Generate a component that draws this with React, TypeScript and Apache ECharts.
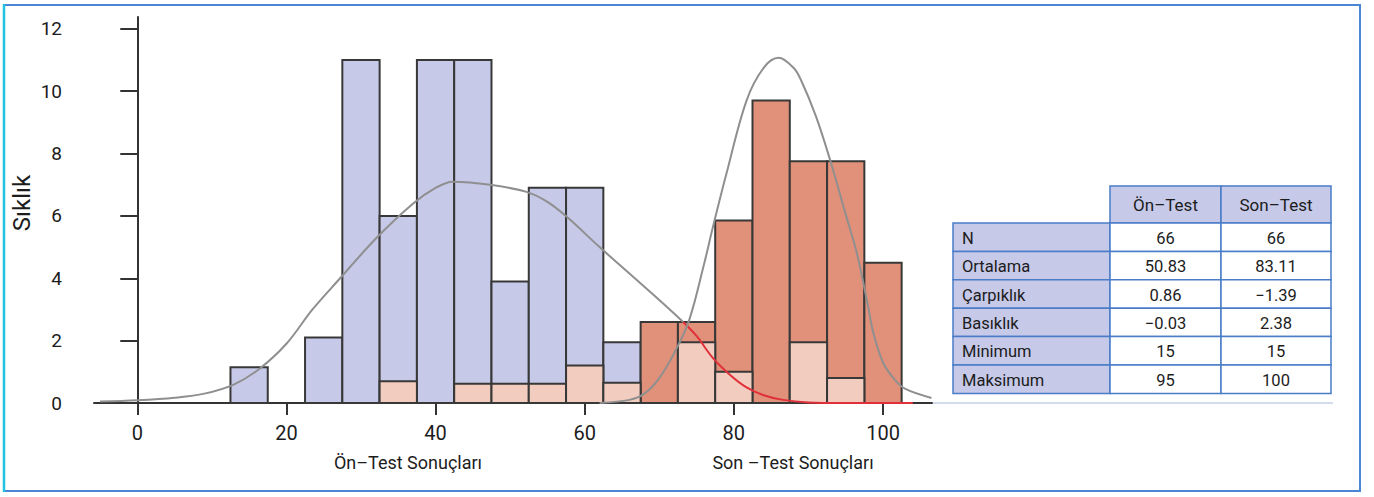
import React, { useEffect, useRef } from "react";
import * as echarts from "echarts";

// Histogram bins (centres, width 5) and their heights
const binWidth = 5;
const preBins = [15, 25, 30, 35, 40, 45, 50, 55, 60, 65];
const preCounts = [1.15, 2.1, 11, 6, 11, 11, 3.9, 6.9, 6.9, 1.95];
const postBins = [70, 75, 80, 85, 90, 95, 100];
const postCounts = [2.6, 2.6, 5.85, 9.7, 7.75, 7.75, 4.5];
const overlapBins = [35, 45, 50, 55, 60, 65, 75, 80, 90, 95];
const overlapCounts = [0.7, 0.62, 0.62, 0.62, 1.2, 0.65, 1.95, 1.0, 1.95, 0.8];

// Density curves
const preCurveX = [-5, 0, 5, 9, 13, 16.4, 20, 23.5, 27.2, 32.1, 37, 40, 42.3, 47.3, 52.2, 55, 57.6, 62, 66, 70, 73.2];
const preCurveY = [0.05, 0.09, 0.17, 0.3, 0.6, 1.1, 1.9, 3.0, 4.0, 5.3, 6.4, 6.9, 7.1, 7.0, 6.77, 6.45, 5.97, 5.0, 4.15, 3.3, 2.6];
const preTailX = [73.2, 75, 77.2, 79.5, 81.7, 84, 86.6, 90, 95, 104];
const preTailY = [2.6, 2.15, 1.44, 0.9, 0.5, 0.25, 0.1, 0.02, 0, 0];
const postCurveX = [62, 66, 68, 70, 72, 74, 76, 77.2, 79, 81.7, 84, 86, 88, 89, 91, 92.9, 95, 96.5, 98, 98.7, 100, 101.6, 103, 106.5];
const postCurveY = [0, 0.1, 0.3, 0.8, 1.6, 2.65, 4.45, 5.65, 7.35, 9.7, 10.75, 11.07, 10.75, 10.36, 9.2, 7.8, 6.05, 4.8, 3.1, 2.25, 1.3, 0.74, 0.45, 0.16];

// Axis ticks
const xTicks = [0, 20, 40, 60, 80, 100];
const yTicks = [0, 2, 4, 6, 8, 10, 12];

// Summary table
const statHeaders = ["Ön–Test", "Son–Test"];
const statLabels = ["N", "Ortalama", "Çarpıklık", "Basıklık", "Minimum", "Maksimum"];
const preStats = ["66", "50.83", "0.86", "−0.03", "15", "95"];
const postStats = ["66", "83.11", "−1.39", "2.38", "15", "100"];

const BLUE = "#c6c9e8";
const RED = "#e1907a";
const PINK = "#f2cdbf";
const EDGE = "#383838";
const TEXT = "#1c1c1c";
const TABLE_LINE = "#4a7cc8";
const FONT = "Roboto, 'Liberation Sans', sans-serif";
const NARROW = "'Liberation Sans Narrow', Roboto, sans-serif";

function barSeries(name: string, bins: number[], counts: number[], fill: string) {
  return {
    type: "custom",
    name,
    z: 2,
    data: bins.map((b, i) => [b, counts[i]]),
    encode: { x: 0, y: 1 },
    renderItem: (_params: any, api: any) => {
      const c = api.value(0);
      const h = api.value(1);
      const p0 = api.coord([c - binWidth / 2, h]);
      const p1 = api.coord([c + binWidth / 2, 0]);
      return {
        type: "rect",
        shape: { x: p0[0], y: p0[1], width: p1[0] - p0[0], height: p1[1] - p0[1] },
        style: { fill, stroke: EDGE, lineWidth: 2 },
      };
    },
  };
}

function lineSeries(xs: number[], ys: number[], color: string) {
  return {
    type: "line",
    z: 3,
    smooth: 0.35,
    showSymbol: false,
    silent: true,
    data: xs.map((x, i) => [x, ys[i]]),
    lineStyle: { color, width: 2 },
  };
}

function buildTable() {
  const left = 953;
  const c1 = 1110;
  const c2 = 1221;
  const right = 1331;
  const headTop = 186;
  const bodyTop = 223;
  const rowH = 28.4;
  const els: any[] = [];
  const cellStyle = (fill: string) => ({ fill, stroke: TABLE_LINE, lineWidth: 1.5 });
  const cols = [c1, c2, right];
  statHeaders.forEach((h, i) => {
    els.push({ type: "rect", shape: { x: cols[i], y: headTop, width: cols[i + 1] - cols[i], height: bodyTop - headTop }, style: cellStyle(BLUE) });
    els.push({
      type: "text",
      x: (cols[i] + cols[i + 1]) / 2,
      y: (headTop + bodyTop) / 2,
      style: { text: h, fill: TEXT, font: `17px ${FONT}`, align: "center", verticalAlign: "middle" },
    });
  });
  statLabels.forEach((lab, r) => {
    const y = bodyTop + r * rowH;
    els.push({ type: "rect", shape: { x: left, y, width: c1 - left, height: rowH }, style: cellStyle(BLUE) });
    els.push({ type: "rect", shape: { x: c1, y, width: c2 - c1, height: rowH }, style: cellStyle("#ffffff") });
    els.push({ type: "rect", shape: { x: c2, y, width: right - c2, height: rowH }, style: cellStyle("#ffffff") });
    els.push({
      type: "text",
      x: left + 9,
      y: y + rowH / 2 + 1,
      style: { text: lab, fill: TEXT, font: `16.5px ${FONT}`, align: "left", verticalAlign: "middle" },
    });
    [preStats[r], postStats[r]].forEach((v, k) => {
      els.push({
        type: "text",
        x: (cols[k] + cols[k + 1]) / 2,
        y: y + rowH / 2 + 1,
        style: { text: v, fill: TEXT, font: `16.5px ${FONT}`, align: "center", verticalAlign: "middle" },
      });
    });
  });
  return els;
}

export default function App() {
  const ref = useRef<HTMLDivElement>(null);

  useEffect(() => {
    if (!ref.current) return;
    const chart = echarts.init(ref.current, null, { renderer: "svg" });
    const option: any = {
      animation: false,
      backgroundColor: "#ffffff",
      grid: { left: 94, right: 442, top: 17, bottom: 94 },
      xAxis: {
        type: "value",
        min: -5.8,
        max: 106.57,
        splitLine: { show: false },
        axisLine: { show: true, onZero: false, lineStyle: { color: "#333", width: 2 } },
        axisTick: { show: true, customValues: xTicks, length: 12, lineStyle: { color: "#333", width: 2 } },
        axisLabel: { customValues: xTicks, color: TEXT, fontSize: 20, fontFamily: NARROW, margin: 20 },
      },
      yAxis: {
        type: "value",
        min: 0,
        max: 12.38,
        splitLine: { show: false },
        axisLine: { show: true, lineStyle: { color: "#333", width: 2 } },
        axisTick: { show: true, customValues: yTicks, length: 17, lineStyle: { color: "#333", width: 2 } },
        axisLabel: { customValues: yTicks, color: TEXT, fontSize: 19, fontFamily: NARROW, margin: 32 },
      },
      series: [
        barSeries("Ön-Test", preBins, preCounts, BLUE),
        barSeries("Son-Test", postBins, postCounts, RED),
        barSeries("Ortak", overlapBins, overlapCounts, PINK),
        lineSeries(preCurveX, preCurveY, "#8f8f8f"),
        lineSeries(preTailX, preTailY, "#e0303a"),
        lineSeries(postCurveX, postCurveY, "#8f8f8f"),
      ],
      graphic: [
        // frame
        { type: "rect", shape: { x: 4, y: 5, width: 1356, height: 486 }, style: { fill: "none", stroke: "#4a86d4", lineWidth: 2 }, z: 10 },
        { type: "line", shape: { x1: 4, y1: 4, x2: 4, y2: 492 }, style: { stroke: "#22c3e0", lineWidth: 2.5 }, z: 11 },
        // baseline continuation under the table
        { type: "line", shape: { x1: 933, y1: 403, x2: 1333, y2: 403 }, style: { stroke: "#c4d0e4", lineWidth: 1.5 } },
        {
          type: "text",
          x: 22,
          y: 203,
          rotation: Math.PI / 2,
          style: { text: "Sıklık", fill: TEXT, font: `24px ${FONT}`, align: "center", verticalAlign: "middle" },
        },
        {
          type: "text",
          x: 408,
          y: 462,
          style: { text: "Ön–Test Sonuçları", fill: TEXT, font: `18px ${FONT}`, align: "center", verticalAlign: "middle" },
        },
        {
          type: "text",
          x: 793,
          y: 462,
          style: { text: "Son –Test Sonuçları", fill: TEXT, font: `18px ${FONT}`, align: "center", verticalAlign: "middle" },
        },
        ...buildTable(),
      ],
    };
    chart.setOption(option);
    return () => chart.dispose();
  }, []);

  return (
    <div
      ref={ref}
      style={{ position: "absolute", left: 0, top: 0, width: 1374, height: 497, background: "#ffffff" }}
    />
  );
}
